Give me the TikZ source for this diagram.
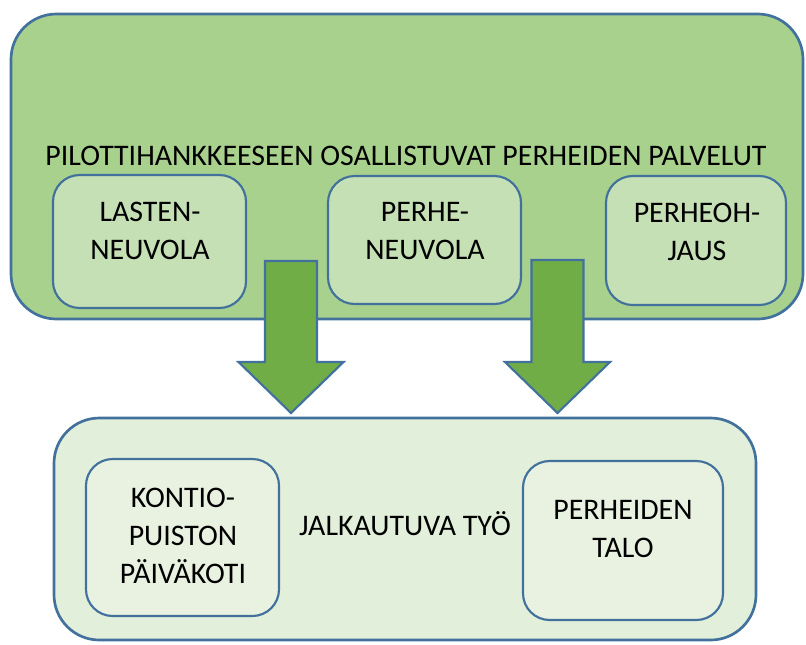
\documentclass[tikz,border=0pt]{standalone}
\usepackage{fontspec}
\setmainfont{Carlito}
\definecolor{bord}{HTML}{41719C}
\definecolor{topfill}{HTML}{A9D18E}
\definecolor{topinner}{HTML}{C5E0B4}
\definecolor{arrfill}{HTML}{70AD47}
\definecolor{botfill}{HTML}{E2EFDA}
\definecolor{botinner}{HTML}{E9F2E0}
\tikzset{
  outerbox/.style={draw=bord, line width=2pt, rounded corners=34pt},
  innerbox/.style={draw=bord, line width=1.6pt, rounded corners=20pt},
  txt/.style={font=\fontsize{22.4}{28.5}\selectfont, align=center, inner sep=0pt},
  bigarrow/.style={draw=bord, line width=1.6pt, fill=arrfill, line join=miter},
}
\begin{document}
\begin{tikzpicture}[x=0.75pt, y=-0.75pt]
\useasboundingbox (0,0) rectangle (806,644);
% top group
\draw[outerbox, fill=topfill] (11,14) rectangle (803,319);
\node[txt] (title) at (406,156) {PILOTTIHANKKEESEEN OSALLISTUVAT PERHEIDEN PALVELUT};
\draw[innerbox, fill=topinner] (53,175) rectangle (246,308);
\node[txt] (lasten) at (150,231) {LASTEN-\\NEUVOLA};
\draw[innerbox, fill=topinner] (328,176) rectangle (521,304);
\node[txt] (perhe) at (425,231) {PERHE-\\NEUVOLA};
\draw[innerbox, fill=topinner] (606,176) rectangle (786,305);
\node[txt] (ohjaus) at (697,232) {PERHEOH-\\JAUS};
% bottom group
\draw[outerbox, fill=botfill] (54,418) rectangle (756,640);
\draw[innerbox, fill=botinner] (86,459) rectangle (279,616);
\node[txt] (kontio) at (183,536) {KONTIO-\\PUISTON\\PÄIVÄKOTI};
\node[txt] (jalk) at (405,523.5) {JALKAUTUVA TYÖ};
\draw[innerbox, fill=botinner] (523,461) rectangle (723,620);
\node[txt] (talo) at (623,529) {PERHEIDEN\\TALO};
% arrows
\draw[bigarrow] (265,261) -- (317,261) -- (317,362) -- (343.5,362) -- (291,413) -- (238.5,362) -- (265,362) -- cycle;
\draw[bigarrow] (531.5,260) -- (583.5,260) -- (583.5,362) -- (610,362) -- (557.5,413) -- (505,362) -- (531.5,362) -- cycle;
\end{tikzpicture}
\end{document}
